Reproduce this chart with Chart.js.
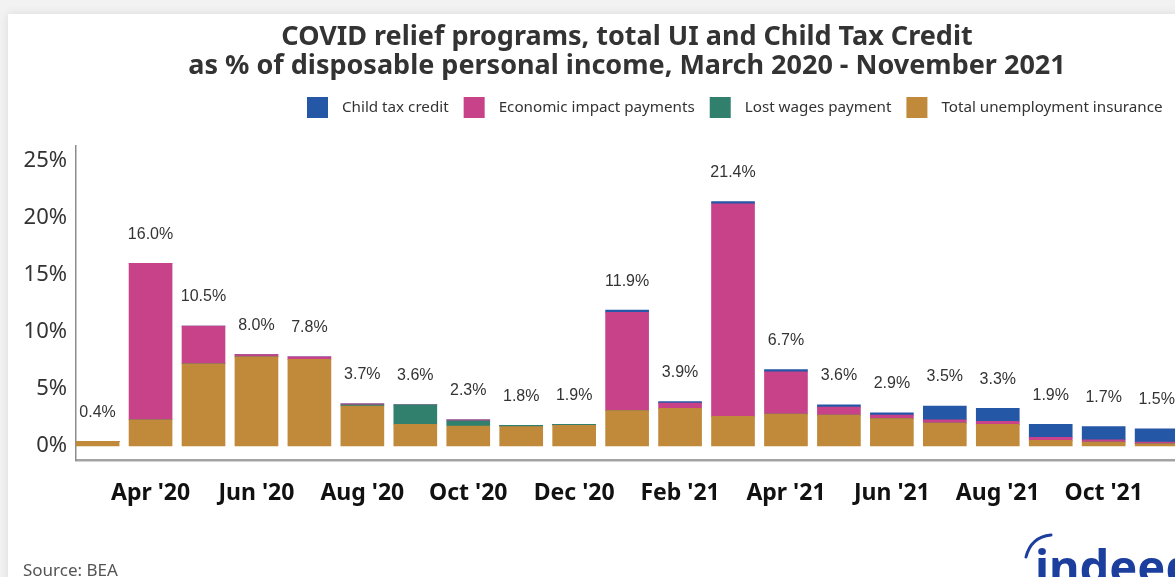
<!DOCTYPE html>
<html>
<head>
<meta charset="utf-8">
<script src="https://cdn.jsdelivr.net/npm/chart.js@4.4.1/dist/chart.umd.min.js"></script>
<style>
  html, body { margin: 0; padding: 0; width: 1175px; height: 577px; overflow: hidden; background: #f2f2f2; }
  #card { position: absolute; left: 8px; top: 14px; width: 1400px; height: 800px; background: #fff; box-shadow: 0 0 9px rgba(0,0,0,0.10); }
  #c { position: absolute; left: 0; top: 0; }
</style>
</head>
<body>
<div id="card"></div>
<canvas id="c" width="1254" height="577"></canvas>
<script>
// Months covered, March 2020 - November 2021
const months = ["Mar '20", "Apr '20", "May '20", "Jun '20", "Jul '20", "Aug '20", "Sep '20",
  "Oct '20", "Nov '20", "Dec '20", "Jan '21", "Feb '21", "Mar '21", "Apr '21", "May '21",
  "Jun '21", "Jul '21", "Aug '21", "Sep '21", "Oct '21", "Nov '21"];

// Month labels shown along the x axis
const tickLabels = ["Apr '20", "Jun '20", "Aug '20", "Oct '20", "Dec '20", "Feb '21",
  "Apr '21", "Jun '21", "Aug '21", "Oct '21"];

// Y axis ticks (% of disposable personal income)
const yTicks = [0, 5, 10, 15, 20, 25];

// Series, % of disposable personal income
const unemploymentInsurance = [0.4, 2.3, 7.2, 7.8, 7.6, 3.5, 1.9, 1.75, 1.7, 1.8, 3.1, 3.3, 2.6, 2.8, 2.7, 2.4, 2.0, 1.9, 0.5, 0.35, 0.2];
const lostWages = [0, 0, 0, 0, 0, 0.1, 1.7, 0.45, 0.1, 0.1, 0, 0, 0, 0, 0, 0, 0, 0, 0, 0, 0];
const economicImpact = [0, 13.7, 3.3, 0.2, 0.2, 0.1, 0, 0.1, 0, 0, 8.6, 0.45, 18.6, 3.7, 0.7, 0.3, 0.3, 0.25, 0.25, 0.2, 0.15];
const childTaxCredit = [0, 0, 0, 0, 0, 0, 0, 0, 0, 0, 0.2, 0.15, 0.2, 0.2, 0.2, 0.2, 1.2, 1.15, 1.15, 1.15, 1.15];

const COLORS = {
  ctc: '#2457a6',
  eip: '#c74288',
  lw: '#31806d',
  ui: '#c08a3a'
};

const toPoints = arr => arr.map((v, i) => ({ x: i, y: v }));

function total(i) {
  return Math.round((unemploymentInsurance[i] + lostWages[i] + economicImpact[i] + childTaxCredit[i]) * 10) / 10;
}

// Total label above each stacked bar
const totalsPlugin = {
  id: 'totals',
  afterDatasetsDraw(chart) {
    const { ctx, scales: { x, y } } = chart;
    ctx.save();
    ctx.font = '16px "Liberation Sans", Arial, sans-serif';
    ctx.fillStyle = '#333';
    ctx.textAlign = 'center';
    ctx.textBaseline = 'middle';
    months.forEach((m, i) => {
      const t = total(i);
      ctx.fillText(t.toFixed(1) + '%', x.getPixelForValue(i), y.getPixelForValue(t) - 29);
    });
    ctx.restore();
  }
};

// Legend row, source note and logo
const legendItems = [
  { text: 'Child tax credit', color: COLORS.ctc },
  { text: 'Economic impact payments', color: COLORS.eip },
  { text: 'Lost wages payment', color: COLORS.lw },
  { text: 'Total unemployment insurance', color: COLORS.ui }
];

const decorPlugin = {
  id: 'decor',
  afterDraw(chart) {
    const ctx = chart.ctx;
    ctx.save();
    // legend
    ctx.font = '15.2px "Noto Sans", "Open Sans", sans-serif';
    ctx.textBaseline = 'middle';
    ctx.textAlign = 'left';
    let x = 307;
    const cy = 107.5;
    legendItems.forEach(item => {
      ctx.fillStyle = item.color;
      ctx.fillRect(x, cy - 10.5, 21, 21);
      x += 21 + 14;
      ctx.fillStyle = '#333';
      ctx.fillText(item.text, x, cy);
      x += ctx.measureText(item.text).width + 15;
    });
    // source
    ctx.font = '17px "Noto Sans", "Open Sans", sans-serif';
    ctx.fillStyle = '#555';
    ctx.textBaseline = 'alphabetic';
    ctx.fillText('Source: BEA', 23, 576);
    // logo
    ctx.fillStyle = '#1c3f9e';
    ctx.font = 'bold 47px "Noto Sans", sans-serif';
    ctx.fillText('indeed', 1035, 584);
    ctx.strokeStyle = '#1c3f9e';
    ctx.lineWidth = 3;
    ctx.lineCap = 'round';
    ctx.beginPath();
    ctx.moveTo(1026, 557);
    ctx.quadraticCurveTo(1031, 537, 1051, 535);
    ctx.stroke();
    ctx.restore();
  }
};

new Chart(document.getElementById('c'), {
  type: 'bar',
  data: {
    datasets: [
      { label: 'Total unemployment insurance', data: toPoints(unemploymentInsurance), backgroundColor: COLORS.ui, barThickness: 43 },
      { label: 'Lost wages payment', data: toPoints(lostWages), backgroundColor: COLORS.lw, barThickness: 43 },
      { label: 'Economic impact payments', data: toPoints(economicImpact), backgroundColor: COLORS.eip, barThickness: 43 },
      { label: 'Child tax credit', data: toPoints(childTaxCredit), backgroundColor: COLORS.ctc, barThickness: 43 }
    ]
  },
  options: {
    responsive: false,
    animation: false,
    layout: { padding: 0 },
    plugins: {
      legend: { display: false },
      tooltip: { enabled: false },
      title: {
        display: true,
        text: ['COVID relief programs, total UI and Child Tax Credit',
               'as % of disposable personal income, March 2020 - November 2021'],
        color: '#333',
        font: { family: '"Noto Sans", "Open Sans", sans-serif', size: 27, weight: 'bold', lineHeight: 1.074 },
        padding: { top: 22.5, bottom: 65.5 }
      }
    },
    scales: {
      x: {
        type: 'linear',
        stacked: true,
        offset: false,
        bounds: 'data',
        min: -0.408,
        max: 21.839,
        grid: { display: false, drawTicks: false, offset: false },
        border: { display: true, color: '#a3a3a3', width: 2.5 },
        afterBuildTicks: s => { s.ticks = tickLabels.map(l => ({ value: months.indexOf(l) })); },
        afterFit: s => { s.height = 117; },
        ticks: {
          autoSkip: false,
          maxRotation: 0,
          padding: 19.4,
          color: '#111',
          font: { family: '"Noto Sans", "Open Sans", sans-serif', size: 23, weight: 'bold' },
          callback: v => months[v]
        }
      },
      y: {
        stacked: true,
        bounds: 'data',
        min: -1.226,
        max: 26.27,
        grid: { display: false, drawTicks: false },
        border: { display: true, color: '#8c8c8c', width: 1.5 },
        afterBuildTicks: s => { s.ticks = yTicks.map(v => ({ value: v })); },
        afterFit: s => { s.width = 76; },
        ticks: {
          padding: 9,
          color: '#333',
          font: { family: '"Noto Sans", "Open Sans", sans-serif', size: 22 },
          callback: v => v + '%'
        }
      }
    }
  },
  plugins: [totalsPlugin, decorPlugin]
});
</script>
</body>
</html>
